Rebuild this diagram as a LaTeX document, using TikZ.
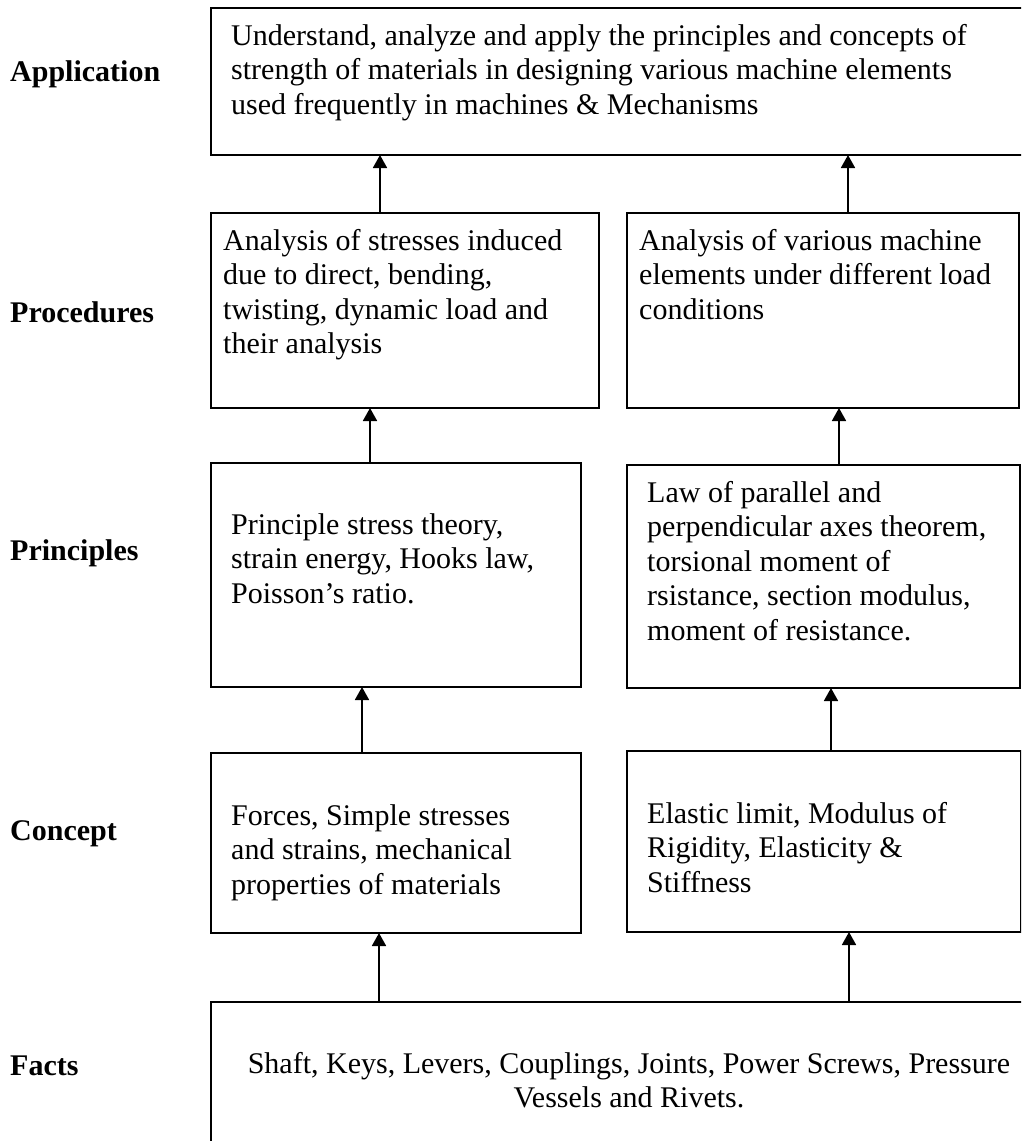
\documentclass[tikz,border=0pt]{standalone}
\usepackage{fontspec}
\setmainfont{Liberation Serif}
\usetikzlibrary{arrows.meta,calc}
\begin{document}
\begin{tikzpicture}[x=1pt,y=-1pt,
  box/.style={draw,line width=1.8pt,inner sep=0pt,outer sep=0pt,anchor=north west},
  txt/.style={inner sep=0pt,anchor=north west,align=left,font=\fontsize{30pt}{34.5pt}\selectfont},
  lbl/.style={inner sep=0pt,anchor=base west,font=\fontsize{30pt}{34.5pt}\selectfont\bfseries},
  arr/.style={line width=1.8pt,-{Triangle[length=13pt,width=14pt]}}]
\useasboundingbox (0,0) rectangle (1021,1141);
\clip (0,0) rectangle (1021,1141);
\fill[white] (0,0) rectangle (1021,1141);
% boxes
\node[box,minimum width=836pt,minimum height=147pt] (appl) at (211,8) {};
\node[box,minimum width=388pt,minimum height=195pt] (procL) at (211,213) {};
\node[box,minimum width=392pt,minimum height=195pt] (procR) at (627,213) {};
\node[box,minimum width=370pt,minimum height=224pt] (prinL) at (211,463) {};
\node[box,minimum width=393pt,minimum height=223pt] (prinR) at (627,465) {};
\node[box,minimum width=370pt,minimum height=180pt] (concL) at (211,753) {};
\node[box,minimum width=394pt,minimum height=181pt] (concR) at (627,751) {};
\node[box,minimum width=836pt,minimum height=200pt] (facts) at (211,1002) {};
% texts
\node[txt] (applT) at (231,20.85) {\strut Understand, analyze and apply the principles and concepts of\\strength of materials in designing various machine elements\\used frequently in machines \& Mechanisms};
\node[txt] (procLT) at (223,225.85) {\strut Analysis of stresses induced\\due to direct, bending,\\twisting, dynamic load and\\their analysis};
\node[txt] (procRT) at (639,225.85) {\strut Analysis of various machine\\elements under different load\\conditions};
\node[txt] (prinLT) at (231,509.85) {\strut Principle stress theory,\\strain energy, Hooks law,\\Poisson’s ratio.};
\node[txt] (prinRT) at (647,477.85) {\strut Law of parallel and\\perpendicular axes theorem,\\torsional moment of\\rsistance, section modulus,\\moment of resistance.};
\node[txt] (concLT) at (231,800.85) {\strut Forces, Simple stresses\\and strains, mechanical\\properties of materials};
\node[txt] (concRT) at (647,798.85) {\strut Elastic limit, Modulus of\\Rigidity, Elasticity \&\\Stiffness};
\node[txt,anchor=north,align=center] (factsT) at (629,1048.85) {\strut Shaft, Keys, Levers, Couplings, Joints, Power Screws, Pressure\\Vessels and Rivets.};
% level labels
\node[lbl] (lApp) at (10,81) {Application};
\node[lbl] (lProc) at (10,322) {Procedures};
\node[lbl] (lPrin) at (10,560) {Principles};
\node[lbl] (lConc) at (10,840) {Concept};
\node[lbl] (lFact) at (10,1075) {Facts};
% connectors
\draw[arr] ($(facts.north west)+(168,0)$) -- ($(concL.south west)+(168,0)$);
\draw[arr] ($(facts.north west)+(638,0)$) -- ($(concR.south west)+(222,0)$);
\draw[arr] ($(concL.north west)+(151,0)$) -- ($(prinL.south west)+(151,0)$);
\draw[arr] ($(concR.north west)+(204,0)$) -- ($(prinR.south west)+(204,0)$);
\draw[arr] ($(prinL.north west)+(159,0)$) -- ($(procL.south west)+(159,0)$);
\draw[arr] ($(prinR.north west)+(212,0)$) -- ($(procR.south west)+(212,0)$);
\draw[arr] ($(procL.north west)+(169,0)$) -- ($(appl.south west)+(169,0)$);
\draw[arr] ($(procR.north west)+(221,0)$) -- ($(appl.south west)+(637,0)$);
\end{tikzpicture}
\end{document}
